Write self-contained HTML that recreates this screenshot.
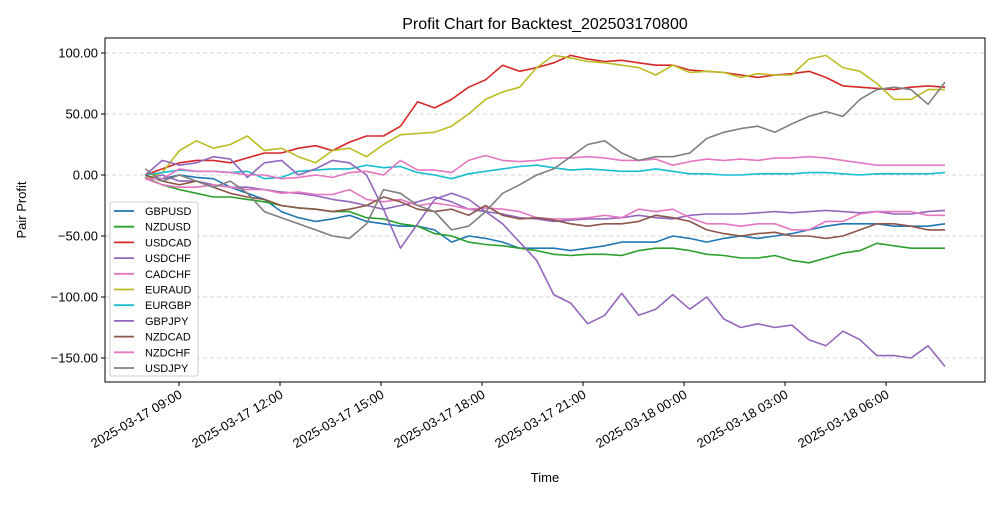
<!DOCTYPE html>
<html><head><meta charset="utf-8"><style>
body{margin:0;background:#fff;}
svg{font-family:"Liberation Sans","DejaVu Sans",sans-serif;}
</style></head><body>
<svg id="chart" width="1000" height="500" viewBox="0 0 1000 500" xmlns="http://www.w3.org/2000/svg">
<rect width="1000" height="500" fill="#fff"/>
<text x="545" y="29" text-anchor="middle" font-size="16">Profit Chart for Backtest_202503170800</text>
<text x="545" y="482" text-anchor="middle" font-size="13">Time</text>
<text transform="translate(26,210) rotate(-90)" text-anchor="middle" font-size="13">Pair Profit</text>
<g id="grid"></g><g id="series"></g>
<rect x="105" y="38" width="880" height="344" fill="none" stroke="#000" stroke-width="1"/>
<g id="axes"></g><g id="legend"></g>
</svg>
<script>
const yTicks=[100,50,0,-50,-100,-150];
const yTickLabels=["100.00","50.00","0.00","\u221250.00","\u2212100.00","\u2212150.00"];
const xTickHours=[0,3,6,9,12,15,18,21];
const xTickLabels=["2025-03-17 09:00","2025-03-17 12:00","2025-03-17 15:00","2025-03-17 18:00","2025-03-17 21:00","2025-03-18 00:00","2025-03-18 03:00","2025-03-18 06:00"];
const seriesNames=["GBPUSD","NZDUSD","USDCAD","USDCHF","CADCHF","EURAUD","EURGBP","GBPJPY","NZDCAD","NZDCHF","USDJPY"];
const seriesColors=["#1f77b4","#2ca02c","#d62728","#9467bd","#e377c2","#bcbd22","#17becf","#9467bd","#8c564b","#e377c2","#7f7f7f"];
const startHour=-1, endHour=22.75;
const GBPUSD=[-2,-3,0,-2,-3,-10,-15,-20,-30,-35,-38,-36,-33,-38,-40,-42,-42,-45,-55,-50,-52,-55,-60,-60,-60,-62,-60,-58,-55,-55,-55,-50,-52,-55,-52,-50,-52,-50,-48,-45,-42,-40,-40,-40,-42,-42,-42,-40];
const NZDUSD=[-2,-8,-12,-15,-18,-18,-20,-22,-25,-27,-28,-30,-30,-35,-36,-40,-42,-48,-50,-55,-57,-58,-60,-62,-65,-66,-65,-65,-66,-62,-60,-60,-62,-65,-66,-68,-68,-66,-70,-72,-68,-64,-62,-56,-58,-60,-60,-60];
const USDCAD=[0,5,10,12,12,10,14,18,18,22,24,20,27,32,32,40,60,55,62,72,78,90,85,88,92,98,95,93,94,92,90,90,86,85,84,82,80,82,83,85,80,73,72,71,70,72,73,72];
const USDCHF=[-3,0,-5,-5,-8,-10,-10,-12,-14,-15,-17,-20,-22,-25,-28,-25,-22,-18,-22,-28,-30,-32,-35,-36,-38,-37,-36,-36,-35,-33,-35,-36,-33,-32,-32,-32,-31,-30,-31,-30,-29,-30,-31,-30,-32,-32,-30,-29];
const CADCHF=[-3,-8,-10,-10,-8,-10,-12,-12,-15,-14,-16,-16,-12,-20,-22,-20,-25,-23,-25,-28,-27,-28,-30,-35,-36,-36,-35,-33,-35,-28,-30,-28,-35,-40,-40,-42,-40,-40,-45,-45,-38,-38,-32,-30,-30,-30,-33,-33];
const EURAUD=[-3,2,20,28,22,25,32,20,22,15,10,20,22,15,25,33,34,35,40,50,62,68,72,88,98,96,93,92,90,88,82,90,84,85,84,80,83,82,82,95,98,88,85,75,62,62,70,70];
const EURGBP=[0,2,4,3,3,2,3,-3,-2,3,4,5,5,8,6,7,2,0,-3,1,3,5,7,8,6,4,5,4,3,3,5,3,1,1,0,0,1,1,1,2,2,1,0,1,1,1,1,2];
const GBPJPY=[0,12,8,10,15,13,-2,10,12,0,5,12,10,0,-28,-60,-40,-20,-15,-20,-30,-40,-55,-70,-98,-105,-122,-115,-97,-115,-110,-98,-110,-100,-118,-125,-122,-125,-123,-135,-140,-128,-135,-148,-148,-150,-140,-157];
const NZDCAD=[0,-5,-8,-5,-10,-15,-18,-20,-25,-27,-28,-30,-28,-25,-18,-22,-28,-30,-28,-33,-25,-33,-36,-35,-37,-40,-42,-40,-40,-38,-33,-35,-38,-45,-48,-50,-48,-47,-50,-50,-52,-50,-45,-40,-40,-42,-45,-45];
const NZDCHF=[-3,-3,5,3,3,2,0,0,-3,-2,0,-2,2,3,0,12,4,4,2,12,16,12,11,12,14,14,15,14,12,12,13,8,11,13,12,13,12,14,14,15,14,12,10,8,8,8,8,8];
const USDJPY=[5,-5,0,-5,-10,-5,-15,-30,-35,-40,-45,-50,-52,-40,-12,-15,-25,-30,-45,-42,-30,-15,-8,0,5,15,25,28,18,12,15,15,18,30,35,38,40,35,42,48,52,48,62,70,72,70,58,76];
const allSeries=[GBPUSD,NZDUSD,USDCAD,USDCHF,CADCHF,EURAUD,EURGBP,GBPJPY,NZDCAD,NZDCHF,USDJPY];
const NS="http://www.w3.org/2000/svg";
function xS(h){return 179+h*33.67;}
function yS(v){return 175-v*1.22;}
function mk(tag,attrs,parent){const e=document.createElementNS(NS,tag);for(const k in attrs)e.setAttribute(k,attrs[k]);parent.appendChild(e);return e;}
const grid=document.getElementById('grid'),axes=document.getElementById('axes'),ser=document.getElementById('series'),leg=document.getElementById('legend');
yTicks.forEach((t,i)=>{
 const y=yS(t);
 const g=mk('line',{x1:105,x2:985,y1:y,y2:y,stroke:'#b0b0b0','stroke-width':0.8,'stroke-dasharray':'4,3',opacity:0.7},grid);
 
 
 const tk=mk('line',{x1:101,x2:105,y1:y,y2:y,stroke:'#000'},axes);
 
 
 const tx=mk('text',{x:98,y:y+4.5,'text-anchor':'end','font-size':13},axes);
 
 
 tx.textContent=yTickLabels[i];
});
xTickHours.forEach((h,i)=>{
 const x=xS(h);
 const tk=mk('line',{x1:x,x2:x,y1:382,y2:386,stroke:'#000'},axes);
 
 
 const tx=mk('text',{x:0,y:0,'text-anchor':'end','font-size':13,transform:`translate(${x+4},${397}) rotate(-30)`},axes);
 
 
 tx.textContent=xTickLabels[i];
});
allSeries.forEach((d,si)=>{
 const step=(endHour-startHour)/(d.length-1);
 const pts=d.map((v,i)=>xS(startHour+i*step).toFixed(1)+','+yS(v).toFixed(1)).join(' ');
 const p=mk('polyline',{points:pts,fill:'none',stroke:seriesColors[si],'stroke-width':1.6,'stroke-linejoin':'round'},ser);
 
 
});
const lb=mk('rect',{x:110,y:202,width:88,height:174,fill:'#fff','fill-opacity':0.8,stroke:'#ccc',rx:2},leg);


seriesNames.forEach((n,i)=>{
 const y=211+i*15.7;
 const l=mk('line',{x1:114,x2:134,y1:y,y2:y,stroke:seriesColors[i],'stroke-width':1.8},leg);
 
 
 const t=mk('text',{x:145,y:y+4,'font-size':11},leg);
 
 
 t.textContent=n;
});
</script>
</body></html>
